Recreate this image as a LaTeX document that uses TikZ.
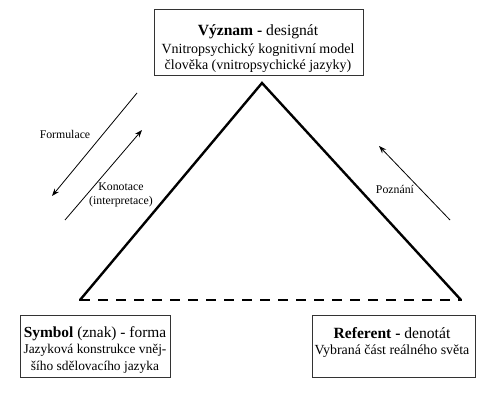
\documentclass[tikz,border=0pt]{standalone}
\usepackage{fontspec}
\setmainfont{Liberation Serif}
\usetikzlibrary{arrows.meta}
\begin{document}
\begin{tikzpicture}[x=1pt,y=-1pt,
  box/.style={draw=black!80, line width=0.8pt, inner sep=0pt},
  boxtext/.style={align=center, inner sep=0pt},
  lbl/.style={inner sep=0pt, font=\fontsize{11.8}{13.5}\selectfont, align=center},
  side/.style={line width=2.4pt, line cap=round},
  base/.style={line width=2.4pt, dash pattern=on 10pt off 8pt},
  arr/.style={line width=0.8pt, -{Stealth[length=7.5pt,width=5.5pt]}}
]
\useasboundingbox (0,0) rectangle (500,406);
% triangle
\coordinate (A) at (262,83);
\coordinate (L) at (80,300);
\coordinate (R) at (461,300);
\draw[side] (L) -- (A) -- (R);
\draw[base] (L) -- (R);
% top box
\node[box, minimum width=209pt, minimum height=66pt, anchor=north west] (top) at (154,9) {};
\node[boxtext, anchor=north, font=\fontsize{14}{16.5}\selectfont] (toptxt) at (258,24.5) {{\fontsize{15.6}{17}\selectfont\textbf{Význam -} designát}\\[1pt]Vnitropsychický kognitivní model\\člověka (vnitropsychické jazyky)};
% left box
\node[box, minimum width=150pt, minimum height=62pt, anchor=north west] (sym) at (20,315) {};
\node[boxtext, anchor=north, font=\fontsize{13.4}{16.5}\selectfont] (symtxt) at (95,326) {{\fontsize{15.4}{17}\selectfont\textbf{Symbol} (znak) - forma}\\Jazyková konstrukce vněj-\\šího sdělovacího jazyka};
% right box
\node[box, minimum width=163pt, minimum height=62pt, anchor=north west] (ref) at (312,315) {};
\node[boxtext, anchor=north, font=\fontsize{13.9}{16.5}\selectfont] (reftxt) at (392,327) {{\fontsize{15.6}{17}\selectfont\textbf{Referent -} denotát}\\Vybraná část reálného světa};
% arrows
\coordinate (f1) at (137,93);
\coordinate (f2) at (52,196);
\draw[arr] (f1) -- (f2);
\coordinate (k1) at (65,220);
\coordinate (k2) at (142,130);
\draw[arr] (k1) -- (k2);
\coordinate (p1) at (450,220);
\coordinate (p2) at (379,146);
\draw[arr] (p1) -- (p2);
% labels
\node[lbl] (form) at (65,134) {Formulace};
\node[lbl] (kon) at (121,195) {Konotace\\(interpretace)};
\node[lbl] (poz) at (395,189) {Poznání};
\end{tikzpicture}
\end{document}
